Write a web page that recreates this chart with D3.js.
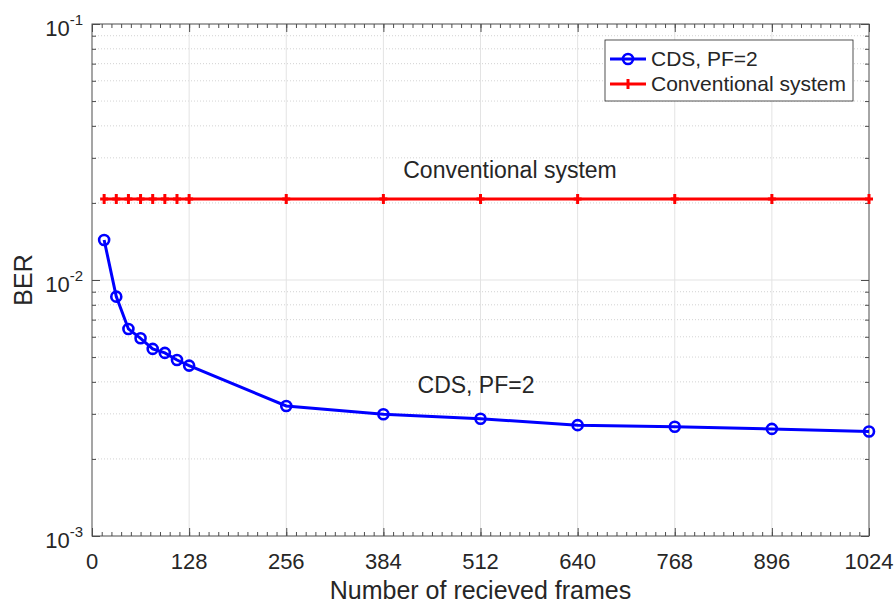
<!DOCTYPE html>
<html>
<head>
<meta charset="utf-8">
<script src="https://cdn.jsdelivr.net/npm/d3@7"></script>
<style>
  body { margin: 0; background: #fff; }
  svg text { font-family: "Liberation Sans", Arial, sans-serif; fill: #262626; }
</style>
</head>
<body>
<svg id="chart" width="895" height="603"></svg>
<script>
// data
var frames = [16, 32, 48, 64, 80, 96, 112, 128, 256, 384, 512, 640, 768, 896, 1024];
var berCDS = [0.01433, 0.00861, 0.00644, 0.00592, 0.00538, 0.00519, 0.00487, 0.00463,
              0.00322, 0.00299, 0.00287, 0.00271, 0.00267, 0.00262, 0.00256];
var berConv = [0.0207, 0.0207, 0.0207, 0.0207, 0.0207, 0.0207, 0.0207, 0.0207,
               0.0207, 0.0207, 0.0207, 0.0207, 0.0207, 0.0207, 0.0207];
var xTicks = [0, 128, 256, 384, 512, 640, 768, 896, 1024];
var yTicks = [1e-3, 1e-2, 1e-1];
var legendNames = ["CDS, PF=2", "Conventional system"];

var svg = d3.select('#chart');
var mLeft = 92, mRight = 869, mTop = 24, mBottom = 536;

var x = d3.scaleLinear().domain([0, 1024]).range([mLeft, mRight]);
var y = d3.scaleLog().domain([1e-3, 1e-1]).range([mBottom, mTop]);

// minor values
var xMinor = d3.range(0, 1024.01, 12.8);
var yMinor = [];
[1e-3, 1e-2].forEach(function(d) {
  for (var k = 2; k <= 9; k++) yMinor.push(d * k);
});

var grid = svg.append('g');
// minor y grid dotted
grid.selectAll('.ym').data(yMinor).enter().append('line')
  .attr('x1', mLeft).attr('x2', mRight)
  .attr('y1', function(d) { return y(d); }).attr('y2', function(d) { return y(d); })
  .attr('stroke', '#c8c8c8').attr('stroke-width', 0.8).attr('stroke-dasharray', '1,2');
// major grid
grid.selectAll('.xg').data(xTicks.slice(1, -1)).enter().append('line')
  .attr('x1', function(d) { return x(d); }).attr('x2', function(d) { return x(d); })
  .attr('y1', mTop).attr('y2', mBottom)
  .attr('stroke', '#e3e3e3').attr('stroke-width', 1);
grid.selectAll('.yg').data([1e-2]).enter().append('line')
  .attr('x1', mLeft).attr('x2', mRight)
  .attr('y1', function(d) { return y(d); }).attr('y2', function(d) { return y(d); })
  .attr('stroke', '#e3e3e3').attr('stroke-width', 1);

// axes with inward ticks
var axisColor = '#4d4d4d';
function styleAxis(g) {
  g.select('.domain').remove();
  g.selectAll('line').attr('stroke', axisColor);
  g.selectAll('text').remove();
}
svg.append('g').attr('transform', 'translate(0,' + mBottom + ')')
  .call(d3.axisTop(x).tickValues(xMinor).tickSize(4)).call(styleAxis);
svg.append('g').attr('transform', 'translate(0,' + mBottom + ')')
  .call(d3.axisTop(x).tickValues(xTicks).tickSize(8)).call(styleAxis);
svg.append('g').attr('transform', 'translate(0,' + mTop + ')')
  .call(d3.axisBottom(x).tickValues(xMinor).tickSize(4)).call(styleAxis);
svg.append('g').attr('transform', 'translate(0,' + mTop + ')')
  .call(d3.axisBottom(x).tickValues(xTicks).tickSize(8)).call(styleAxis);
svg.append('g').attr('transform', 'translate(' + mLeft + ',0)')
  .call(d3.axisRight(y).tickValues(yMinor).tickSize(4)).call(styleAxis);
svg.append('g').attr('transform', 'translate(' + mLeft + ',0)')
  .call(d3.axisRight(y).tickValues(yTicks).tickSize(8)).call(styleAxis);
svg.append('g').attr('transform', 'translate(' + mRight + ',0)')
  .call(d3.axisLeft(y).tickValues(yMinor).tickSize(4)).call(styleAxis);
svg.append('g').attr('transform', 'translate(' + mRight + ',0)')
  .call(d3.axisLeft(y).tickValues(yTicks).tickSize(8)).call(styleAxis);

svg.append('rect').attr('x', mLeft).attr('y', mTop)
  .attr('width', mRight - mLeft).attr('height', mBottom - mTop)
  .attr('fill', 'none').attr('stroke', axisColor).attr('stroke-width', 1);

// tick labels
svg.selectAll('.xl').data(xTicks).enter().append('text')
  .attr('x', function(d) { return x(d); }).attr('y', 569)
  .attr('text-anchor', 'middle').attr('font-size', 22)
  .text(function(d) { return d; });

var yl = svg.selectAll('.yl').data(yTicks).enter().append('text')
  .attr('x', 83).attr('y', function(d) { return y(d) + 12; })
  .attr('text-anchor', 'end').attr('font-size', 22);
yl.append('tspan').text('10');
yl.append('tspan').attr('dy', -11).attr('font-size', 15)
  .text(function(d) { return '-' + Math.round(-Math.log10(d)); });

// axis titles
svg.append('text').attr('x', x(512)).attr('y', 599)
  .attr('text-anchor', 'middle').attr('font-size', 25)
  .text('Number of recieved frames');
svg.append('text').attr('transform', 'translate(32,' + y(1e-2) + ') rotate(-90)')
  .attr('text-anchor', 'middle').attr('font-size', 25)
  .text('BER');

// series
var line = d3.line()
  .x(function(d) { return x(d[0]); })
  .y(function(d) { return y(d[1]); });

var conv = d3.zip(frames, berConv);
var cds = d3.zip(frames, berCDS);

svg.append('path').datum(conv).attr('d', line)
  .attr('fill', 'none').attr('stroke', '#ff0000').attr('stroke-width', 3);
svg.selectAll('.plus').data(conv).enter().append('path')
  .attr('d', function(d) {
    var cx = x(d[0]), cy = y(d[1]);
    return 'M' + (cx - 4) + ',' + cy + 'H' + (cx + 4) + 'M' + cx + ',' + (cy - 5) + 'V' + (cy + 5);
  })
  .attr('stroke', '#ff0000').attr('stroke-width', 3);

svg.append('path').datum(cds).attr('d', line)
  .attr('fill', 'none').attr('stroke', '#0000ff').attr('stroke-width', 3);
svg.selectAll('.circ').data(cds).enter().append('circle')
  .attr('cx', function(d) { return x(d[0]); })
  .attr('cy', function(d) { return y(d[1]); })
  .attr('r', 5).attr('fill', 'none')
  .attr('stroke', '#0000ff').attr('stroke-width', 2.6);

// annotations
svg.append('text').attr('x', 510).attr('y', 178)
  .attr('text-anchor', 'middle').attr('font-size', 23).text('Conventional system');
svg.append('text').attr('x', 476).attr('y', 393)
  .attr('text-anchor', 'middle').attr('font-size', 23).text('CDS, PF=2');

// legend
var lg = svg.append('g');
lg.append('rect').attr('x', 605).attr('y', 40).attr('width', 248).attr('height', 61)
  .attr('fill', '#fff').attr('stroke', '#262626').attr('stroke-width', 0.8);
var rows = [59, 84];
lg.append('line').attr('x1', 610).attr('x2', 646).attr('y1', rows[0]).attr('y2', rows[0])
  .attr('stroke', '#0000ff').attr('stroke-width', 3);
lg.append('circle').attr('cx', 628).attr('cy', rows[0]).attr('r', 5)
  .attr('fill', 'none').attr('stroke', '#0000ff').attr('stroke-width', 2.6);
lg.append('line').attr('x1', 610).attr('x2', 646).attr('y1', rows[1]).attr('y2', rows[1])
  .attr('stroke', '#ff0000').attr('stroke-width', 3);
lg.append('path').attr('d', 'M628,' + (rows[1] - 5) + 'V' + (rows[1] + 5))
  .attr('stroke', '#ff0000').attr('stroke-width', 3);
lg.selectAll('.lt').data(legendNames).enter().append('text')
  .attr('x', 651).attr('y', function(d, i) { return rows[i] + 7; })
  .attr('font-size', 21).text(function(d) { return d; });
</script>
</body>
</html>
